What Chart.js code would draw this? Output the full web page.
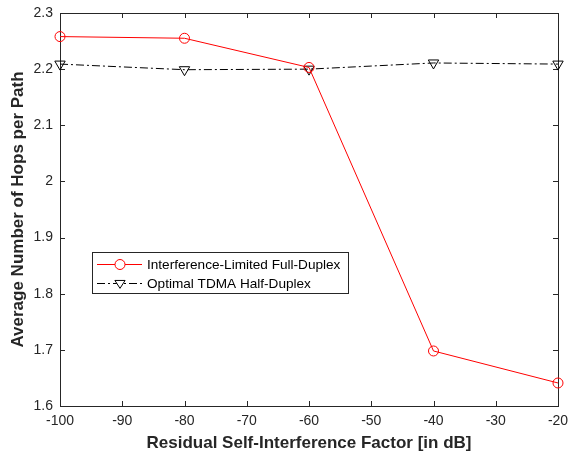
<!DOCTYPE html>
<html>
<head>
<meta charset="utf-8">
<script src="https://cdn.jsdelivr.net/npm/chart.js@4/dist/chart.umd.min.js"></script>
<style>
  body { margin: 0; background: #fff; }
</style>
</head>
<body>
<canvas id="hopsChart" width="569" height="457"></canvas>
<script>
// residual self-interference (dB) vs. average hop count
const interferenceDb = [-100, -80, -60, -40, -20];
const fullDuplexHops = [2.258, 2.255, 2.203, 1.698, 1.641];
const halfDuplexHops = [2.209, 2.199, 2.200, 2.211, 2.209];
const xTickValues = [-100, -90, -80, -70, -60, -50, -40, -30, -20];
const yTickValues = [1.6, 1.7, 1.8, 1.9, 2.0, 2.1, 2.2, 2.3];
const seriesNames = ['Interference-Limited Full-Duplex', 'Optimal TDMA Half-Duplex'];

const axisColor = '#262626';
const fontFamily = '"Liberation Sans", Arial, Helvetica, sans-serif';

const toPoints = (ys) => interferenceDb.map((x, i) => ({ x: x, y: ys[i] }));

// box around the axes with ticks pointing inward on all four sides
const frameTicks = {
    id: 'frameTicks',
    beforeDatasetsDraw(chart) {
        const { ctx, chartArea: a, scales: { x, y } } = chart;
        const len = 5;
        ctx.save();
        ctx.strokeStyle = axisColor;
        ctx.lineWidth = 1;
        ctx.strokeRect(Math.round(a.left) + 0.5, Math.round(a.top) + 0.5,
            Math.round(a.right - a.left), Math.round(a.bottom - a.top));
        ctx.beginPath();
        xTickValues.forEach(v => {
            const px = Math.round(x.getPixelForValue(v)) + 0.5;
            ctx.moveTo(px, a.bottom); ctx.lineTo(px, a.bottom - len);
            ctx.moveTo(px, a.top); ctx.lineTo(px, a.top + len);
        });
        yTickValues.forEach(v => {
            const py = Math.round(y.getPixelForValue(v)) + 0.5;
            ctx.moveTo(a.left, py); ctx.lineTo(a.left + len, py);
            ctx.moveTo(a.right, py); ctx.lineTo(a.right - len, py);
        });
        ctx.stroke();
        ctx.restore();
    }
};

// legend box inside the plot, lower left
const insideLegend = {
    id: 'insideLegend',
    afterDatasetsDraw(chart) {
        const { ctx, chartArea: a } = chart;
        const bx = a.left + 32, by = a.top + 239, bw = 256, bh = 41;
        ctx.save();
        ctx.fillStyle = '#fff';
        ctx.fillRect(bx, by, bw, bh);
        ctx.strokeStyle = axisColor;
        ctx.lineWidth = 1;
        ctx.strokeRect(bx + 0.5, by + 0.5, bw, bh);
        ctx.font = '13.6px ' + fontFamily;
        ctx.textBaseline = 'middle';
        chart.data.datasets.forEach((ds, i) => {
            const cy = by + 12.5 + i * 19;
            ctx.strokeStyle = ds.borderColor;
            ctx.lineWidth = 1;
            ctx.setLineDash(ds.borderDash || []);
            ctx.beginPath();
            ctx.moveTo(bx + 5, cy);
            ctx.lineTo(bx + 50, cy);
            ctx.stroke();
            ctx.setLineDash([]);
            const mx = bx + 28;
            ctx.fillStyle = '#fff';
            ctx.beginPath();
            if (ds.pointStyle === 'circle') {
                ctx.arc(mx, cy, ds.pointRadius, 0, Math.PI * 2);
            } else {
                const r = ds.pointRadius * 0.85;
                ctx.moveTo(mx - r, cy - r * 0.6);
                ctx.lineTo(mx + r, cy - r * 0.6);
                ctx.lineTo(mx, cy + r * 0.95);
                ctx.closePath();
            }
            ctx.fill();
            ctx.stroke();
            ctx.fillStyle = '#000';
            ctx.fillText(ds.label, bx + 55, cy + 1);
        });
        ctx.restore();
    }
};

new Chart(document.getElementById('hopsChart'), {
    type: 'line',
    data: {
        datasets: [{
            label: seriesNames[0],
            data: toPoints(fullDuplexHops),
            borderColor: '#ff0000',
            borderWidth: 1,
            pointStyle: 'circle',
            pointRadius: 5,
            pointBackgroundColor: 'rgba(0,0,0,0)',
            pointBorderColor: '#ff0000',
            pointBorderWidth: 1,
            clip: false,
            order: 1
        }, {
            label: seriesNames[1],
            data: toPoints(halfDuplexHops),
            borderColor: '#000000',
            borderWidth: 1,
            borderDash: [8, 3, 2, 3],
            pointStyle: 'triangle',
            pointRotation: 180,
            pointRadius: 6,
            pointBackgroundColor: 'rgba(0,0,0,0)',
            pointBorderColor: '#000000',
            pointBorderWidth: 1,
            clip: false,
            order: 2
        }]
    },
    options: {
        responsive: false,
        animation: false,
        layout: { padding: { left: 0, top: 13, right: 11, bottom: 0 } },
        plugins: {
            legend: { display: false },
            tooltip: { enabled: false }
        },
        scales: {
            x: {
                type: 'linear',
                min: -100,
                max: -20,
                afterFit(scale) {
                    scale.height = 51;
                    scale.paddingLeft = 0;
                    scale.paddingRight = 0;
                },
                afterBuildTicks(scale) { scale.ticks = xTickValues.map(v => ({ value: v })); },
                grid: { display: false, drawTicks: false },
                border: { display: false },
                ticks: {
                    padding: 7,
                    color: axisColor,
                    font: { family: fontFamily, size: 14 },
                    maxRotation: 0
                },
                title: {
                    display: true,
                    text: 'Residual Self-Interference Factor [in dB]',
                    color: axisColor,
                    font: { family: fontFamily, size: 17, weight: 'bold' },
                    padding: { top: 0, bottom: 3 }
                }
            },
            y: {
                min: 1.6,
                max: 2.3,
                afterFit(scale) {
                    scale.width = 60;
                    scale.paddingTop = 0;
                    scale.paddingBottom = 0;
                },
                afterBuildTicks(scale) { scale.ticks = yTickValues.map(v => ({ value: v })); },
                grid: { display: false, drawTicks: false },
                border: { display: false },
                ticks: {
                    padding: 7,
                    color: axisColor,
                    font: { family: fontFamily, size: 14 },
                    callback: (v) => String(Math.round(v * 10) / 10)
                },
                title: {
                    display: true,
                    text: 'Average Number of Hops per Path',
                    color: axisColor,
                    font: { family: fontFamily, size: 17, weight: 'bold' },
                    padding: { top: 8, bottom: 0 }
                }
            }
        }
    },
    plugins: [frameTicks, insideLegend]
});
</script>
</body>
</html>
